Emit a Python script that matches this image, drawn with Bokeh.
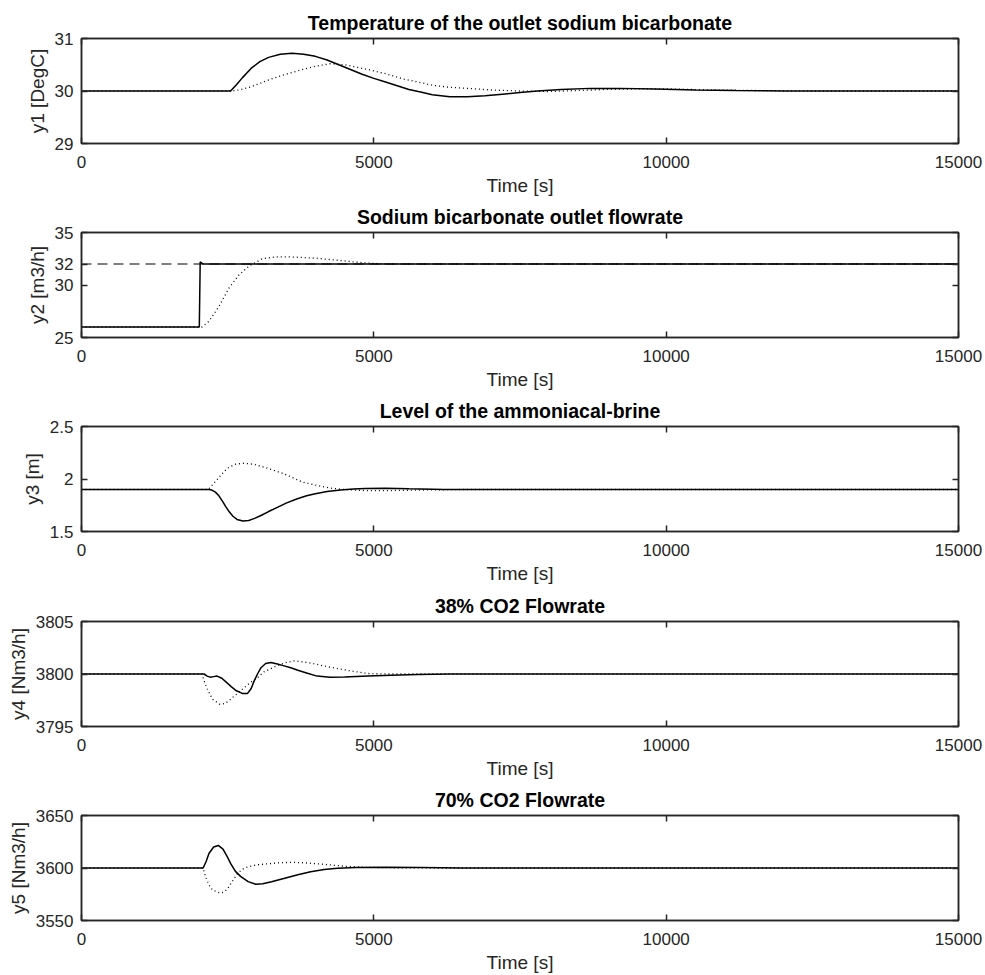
from bokeh.plotting import figure
from bokeh.models import LinearAxis, FixedTicker, CustomJSTickFormatter, Range1d
from bokeh.layouts import column
from bokeh.embed import file_html
from bokeh.resources import INLINE

# ---------------- data ----------------
x_ticks = [0, 5000, 10000, 15000]

# y1: Temperature of the outlet sodium bicarbonate
y1_solid_t = [0, 2550, 2650, 2750, 2900, 3050, 3200, 3400, 3600, 3800, 4000, 4200, 4400, 4600,
              4800, 5000, 5200, 5400, 5600, 5800, 6000, 6300, 6600, 6900, 7200, 7500, 7800,
              8200, 8700, 9200, 9800, 10500, 11200, 12000, 15000]
y1_solid_v = [30.0, 30.0, 30.12, 30.25, 30.43, 30.56, 30.64, 30.70, 30.72, 30.70, 30.66, 30.59,
              30.50, 30.41, 30.32, 30.24, 30.17, 30.10, 30.03, 29.98, 29.93, 29.89, 29.89, 29.91,
              29.94, 29.97, 30.00, 30.03, 30.05, 30.05, 30.04, 30.02, 30.01, 30.00, 30.00]
y1_dot_t = [0, 2550, 2700, 2900, 3200, 3500, 3750, 4000, 4250, 4500, 4900, 5200, 5500, 5800,
            6000, 6300, 6600, 7000, 7500, 8000, 8500, 9000, 9500, 10000, 10800, 11500, 12500, 15000]
y1_dot_v = [30.0, 30.0, 30.02, 30.08, 30.21, 30.32, 30.40, 30.47, 30.52, 30.50, 30.41, 30.33,
            30.23, 30.16, 30.11, 30.07, 30.05, 30.02, 30.00, 29.99, 30.01, 30.03, 30.04, 30.04,
            30.02, 30.01, 30.00, 30.00]
y1_ticks = [29, 30, 31]

# y2: Sodium bicarbonate outlet flowrate
y2_ref_t = [0, 15000]
y2_ref_v = [32, 32]
y2_solid_t = [0, 2015, 2030, 2080, 15000]
y2_solid_v = [26, 26, 32.2, 32.0, 32.0]
y2_dot_t = [0, 2060, 2180, 2350, 2520, 2690, 2870, 3090, 3320, 3550, 3780, 4000, 4200, 4430,
            4650, 4860, 5100, 5400, 15000]
y2_dot_v = [26, 26, 26.54, 27.95, 29.69, 30.94, 31.82, 32.5, 32.67, 32.68, 32.62, 32.56, 32.45,
            32.33, 32.2, 32.1, 32.03, 32.0, 32.0]
y2_ticks = [25, 30, 32, 35]

# y3: Level of the ammoniacal-brine
y3_solid_t = [0, 2170, 2230, 2290, 2350, 2410, 2470, 2530, 2590, 2660, 2760, 2860, 2960, 3060,
              3200, 3350, 3500, 3680, 3850, 4000, 4200, 4430, 4650, 4860, 5200, 5600, 6200,
              7000, 15000]
y3_solid_v = [1.9, 1.9, 1.895, 1.875, 1.84, 1.79, 1.735, 1.685, 1.645, 1.615, 1.60, 1.605, 1.625,
              1.65, 1.69, 1.73, 1.77, 1.81, 1.84, 1.86, 1.88, 1.895, 1.905, 1.91, 1.912, 1.906,
              1.901, 1.9, 1.9]
y3_dot_t = [0, 2170, 2280, 2390, 2490, 2620, 2760, 2950, 3140, 3300, 3460, 3620, 3780, 3940,
            4100, 4300, 4500, 4850, 5300, 5800, 6500, 15000]
y3_dot_v = [1.9, 1.9, 1.97, 2.04, 2.10, 2.14, 2.15, 2.14, 2.11, 2.08, 2.05, 2.01, 1.97, 1.95,
            1.93, 1.91, 1.90, 1.89, 1.89, 1.895, 1.9, 1.9]
y3_ticks = [1.5, 2, 2.5]

# y4: 38% CO2 Flowrate
y4_solid_t = [0, 2095, 2150, 2200, 2260, 2320, 2400, 2480, 2560, 2650, 2750, 2840, 2900, 2950,
              3010, 3070, 3150, 3240, 3350, 3450, 3580, 3700, 3850, 4030, 4250, 4500, 4900,
              5300, 5750, 6300, 15000]
y4_solid_v = [3800, 3800, 3799.8, 3799.7, 3799.75, 3799.8, 3799.6, 3799.2, 3798.8, 3798.4,
              3798.15, 3798.15, 3798.6, 3799.3, 3800.0, 3800.6, 3801.0, 3801.1, 3800.95, 3800.8,
              3800.6, 3800.35, 3800.1, 3799.8, 3799.7, 3799.72, 3799.8, 3799.88, 3799.95, 3800, 3800]
y4_dot_t = [0, 2060, 2100, 2150, 2240, 2370, 2460, 2550, 2720, 2890, 3000, 3120, 3350, 3500,
            3640, 3860, 4000, 4200, 4400, 4600, 4890, 5200, 15000]
y4_dot_v = [3800, 3800, 3799.3, 3798.6, 3797.6, 3797.1, 3797.2, 3797.6, 3798.4, 3799.2, 3799.6,
            3800.2, 3800.8, 3801.1, 3801.25, 3801.1, 3800.95, 3800.7, 3800.5, 3800.3, 3800.05,
            3800.0, 3800]
y4_ticks = [3795, 3800, 3805]

# y5: 70% CO2 Flowrate
y5_solid_t = [0, 2080, 2130, 2180, 2260, 2340, 2420, 2490, 2550, 2630, 2720, 2850, 2980, 3100,
              3250, 3460, 3700, 3920, 4150, 4380, 4700, 5200, 5800, 6500, 7000, 15000]
y5_solid_v = [3600, 3600, 3606, 3613.8, 3620, 3621.5, 3618, 3611, 3604.4, 3597, 3592, 3587,
              3584.6, 3585, 3587, 3590, 3593.5, 3596.5, 3598.5, 3599.7, 3600.4, 3600.6, 3600.4,
              3600.1, 3600, 3600]
y5_dot_t = [0, 2080, 2120, 2180, 2240, 2380, 2450, 2520, 2600, 2670, 2760, 2840, 3000, 3180,
            3400, 3580, 3800, 4040, 4250, 4490, 4890, 5400, 6000, 15000]
y5_dot_v = [3600, 3600, 3592, 3584, 3579, 3576, 3577.5, 3582, 3589, 3595, 3599, 3601, 3603, 3604,
            3605, 3605.4, 3605, 3604, 3603, 3601.7, 3600.6, 3600.2, 3600, 3600]
y5_ticks = [3550, 3600, 3650]

titles = ["Temperature of the outlet sodium bicarbonate",
          "Sodium bicarbonate outlet flowrate",
          "Level of the ammoniacal-brine",
          "38% CO2 Flowrate",
          "70% CO2 Flowrate"]
ylabels = ["y1 [DegC]", "y2 [m3/h]", "y3 [m]", "y4 [Nm3/h]", "y5 [Nm3/h]"]
xlabel = "Time [s]"

# ---------------- styling ----------------
FONT = "Liberation Sans"
AX = "#262626"
fmt = CustomJSTickFormatter(code="return tick.toString();")
blank = CustomJSTickFormatter(code="return '';")


def style_axis(ax, ticks, show_labels):
    ax.ticker = FixedTicker(ticks=ticks)
    ax.axis_line_color = AX
    ax.axis_line_width = 1.5
    ax.major_tick_line_color = AX
    ax.major_tick_line_width = 1.5
    ax.major_tick_in = 6
    ax.major_tick_out = 0
    ax.minor_tick_line_color = None
    if show_labels:
        ax.formatter = fmt
        ax.major_label_text_font = FONT
        ax.major_label_text_font_size = "17px"
        ax.major_label_text_color = AX
        ax.axis_label_text_font = FONT
        ax.axis_label_text_font_size = "19px"
        ax.axis_label_text_font_style = "normal"
        ax.axis_label_text_color = AX
    else:
        ax.formatter = blank
        ax.major_label_text_font_size = "0px"
        ax.major_label_standoff = 0


def make_fig(i, yr, yticks, height, top_b, bottom_b, series):
    p = figure(width=985, height=height,
               x_range=Range1d(0, 15000), y_range=Range1d(*yr),
               output_backend="svg", toolbar_location=None,
               min_border_left=81, min_border_right=27,
               min_border_top=top_b, min_border_bottom=bottom_b,
               title=titles[i])
    p.title.text_font = FONT
    p.title.text_font_size = "19.5px"
    p.title.text_font_style = "bold"
    p.title.text_color = "#000000"
    p.title.align = "center"
    p.title.standoff = 10
    p.grid.visible = False
    p.outline_line_color = AX
    p.outline_line_width = 1.5
    p.background_fill_color = "white"
    p.border_fill_color = "white"

    p.xaxis.axis_label = xlabel
    p.yaxis.axis_label = ylabels[i]
    style_axis(p.xaxis[0], x_ticks, True)
    style_axis(p.yaxis[0], yticks, True)
    p.xaxis.major_label_standoff = 12
    p.xaxis.axis_label_standoff = 4
    p.yaxis.major_label_standoff = 8
    p.yaxis.axis_label_standoff = 4

    top = LinearAxis()
    style_axis(top, x_ticks, False)
    p.add_layout(top, "above")
    right = LinearAxis()
    style_axis(right, yticks, False)
    p.add_layout(right, "right")

    for t, v, kind in series:
        if kind == "dash":
            p.line(t, v, line_color="#555555", line_width=1.3, line_dash="10 6")
        elif kind == "dot":
            p.line(t, v, line_color="#000000", line_width=1.3, line_dash="1 3")
        else:
            p.line(t, v, line_color="#000000", line_width=1.5)
    return p


p1 = make_fig(0, (29, 31), y1_ticks, 198, 38, 54,
              [(y1_dot_t, y1_dot_v, "dot"), (y1_solid_t, y1_solid_v, "solid")])
p2 = make_fig(1, (25, 35), y2_ticks, 194, 34, 54,
              [(y2_ref_t, y2_ref_v, "dash"), (y2_dot_t, y2_dot_v, "dot"),
               (y2_solid_t, y2_solid_v, "solid")])
p3 = make_fig(2, (1.5, 2.5), y3_ticks, 194, 34, 54,
              [(y3_dot_t, y3_dot_v, "dot"), (y3_solid_t, y3_solid_v, "solid")])
p4 = make_fig(3, (3795, 3805), y4_ticks, 195, 35, 54,
              [(y4_dot_t, y4_dot_v, "dot"), (y4_solid_t, y4_solid_v, "solid")])
p5 = make_fig(4, (3550, 3650), y5_ticks, 194, 34, 54,
              [(y5_dot_t, y5_dot_v, "dot"), (y5_solid_t, y5_solid_v, "solid")])

layout = column(p1, p2, p3, p4, p5, spacing=0)
open("out.html", "w").write(file_html(layout, INLINE))
